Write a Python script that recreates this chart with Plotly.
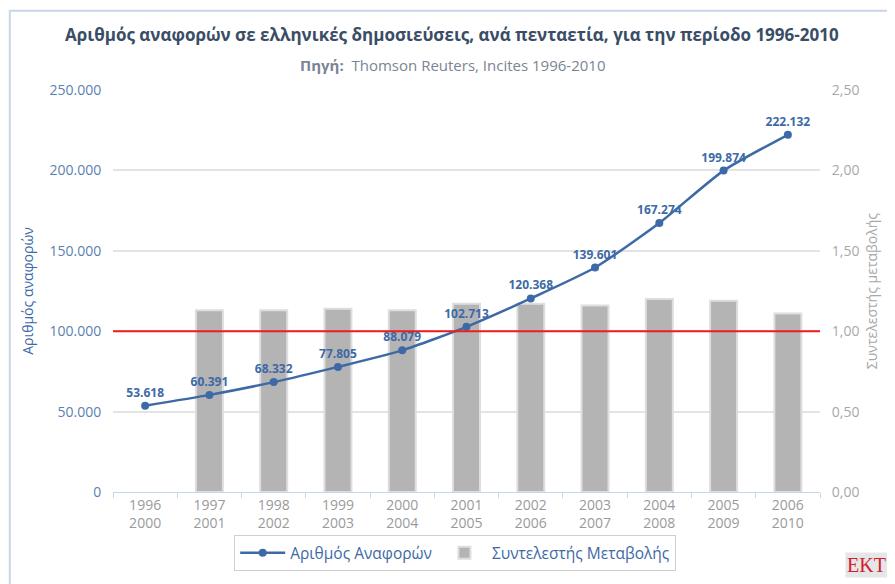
"""Citations to Greek publications per five-year window, 1996-2010."""
from plotly import graph_objects as go

periods = ["1996<br>2000", "1997<br>2001", "1998<br>2002", "1999<br>2003", "2000<br>2004",
           "2001<br>2005", "2002<br>2006", "2003<br>2007", "2004<br>2008", "2005<br>2009",
           "2006<br>2010"]
citations = [53618, 60391, 68332, 77805, 88079, 102713, 120368, 139601, 167274, 199874, 222132]
change_coef = [None, 1.13, 1.13, 1.14, 1.13, 1.17, 1.17, 1.16, 1.20, 1.19, 1.11]

BLUE = "#3d6aa6"
BAR = "#b5b4b4"
AXIS_GREY = "#9a9a9a"
FONT = "Open Sans, DejaVu Sans, sans-serif"

fig = go.Figure()

# bars live on the base axis (drawn right), the line on the overlay (drawn left)
# so that the line and its labels end up on top of the bars
fig.add_trace(
    go.Bar(
        x=periods,
        y=change_coef,
        name="Συντελεστής Μεταβολής",
        yaxis="y",
        width=0.42,
        marker={"color": BAR, "line": {"color": "#dedede", "width": 2}},
    )
)

fig.add_trace(
    go.Scatter(
        x=periods,
        y=citations,
        name="Αριθμός Αναφορών",
        yaxis="y2",
        mode="lines+markers+text",
        line={"color": BLUE, "width": 2.5, "shape": "spline", "smoothing": 0.6},
        marker={"color": BLUE, "size": 8},
        texttemplate="<b>%{y:,d}</b>",
        textposition="top center",
        textfont={"color": BLUE, "size": 12, "family": FONT},
    )
)

fig.add_shape(
    type="line", xref="paper", yref="y", x0=0, x1=1, y0=1, y1=1,
    line={"color": "#ee1c1c", "width": 2}, layer="above",
)

# outer frame of the chart
fig.add_shape(
    type="rect", xref="paper", yref="paper",
    x0=-0.146, x1=1.3, y0=-0.4, y1=1.197,
    line={"color": "#c8d6e6", "width": 2}, layer="below",
)

fig.add_annotation(
    text="<b>Αριθμός αναφορών σε ελληνικές δημοσιεύσεις, ανά πενταετία, για την περίοδο 1996-2010</b>",
    xref="paper", yref="paper", x=0.48, y=1.137, xanchor="center", yanchor="middle",
    showarrow=False, font={"size": 17, "color": "#3a4d66", "family": FONT},
)
fig.add_annotation(
    text="<b>Πηγή:</b>  Thomson Reuters, Incites 1996-2010",
    xref="paper", yref="paper", x=0.48, y=1.062, xanchor="center", yanchor="middle",
    showarrow=False, font={"size": 15, "color": "#7a8494", "family": FONT},
)
fig.add_annotation(
    text="EKT",
    xref="paper", yref="paper", x=1.066, y=-0.182, xanchor="center", yanchor="middle",
    showarrow=False, bgcolor="#e6e6e6",
    font={"size": 20, "color": "#d0202e", "family": "Liberation Serif, serif"},
)

fig.update_layout(
    width=895,
    height=584,
    margin={"l": 105, "r": 83, "t": 82, "b": 100, "autoexpand": False},
    paper_bgcolor="white",
    plot_bgcolor="white",
    separators=",.",
    font={"family": FONT, "color": AXIS_GREY, "size": 14},
    showlegend=True,
    legend={
        "orientation": "h",
        "x": 0.484, "xanchor": "center",
        "y": -0.152, "yanchor": "middle",
        "bordercolor": "#cfcfcf", "borderwidth": 1,
        "font": {"color": BLUE, "size": 15.5},
        "traceorder": "reversed",
        "itemwidth": 45,
    },
    xaxis={
        "type": "category",
        "range": [-0.5, 10.5],
        "showgrid": False,
        "ticks": "outside",
        "tickson": "boundaries",
        "ticklen": 5,
        "tickcolor": "#c8d6e6",
        "showline": True,
        "linecolor": "#c8d6e6",
        "tickfont": {"color": AXIS_GREY, "size": 14},
    },
    yaxis={
        "side": "right",
        "range": [0, 2.5],
        "dtick": 0.5,
        "tickformat": ".2f",
        "showgrid": True,
        "gridcolor": "#e3e3e3",
        "gridwidth": 2,
        "zeroline": False,
        "automargin": False,
        "ticks": "outside",
        "ticklen": 8,
        "tickcolor": "white",
        "tickfont": {"color": "#a8a8a8", "size": 14},
        "title": {"text": "Συντελεστής μεταβολής", "font": {"color": "#a8a8a8", "size": 14}, "standoff": 8},
    },
    yaxis2={
        "overlaying": "y",
        "side": "left",
        "range": [0, 250000],
        "dtick": 50000,
        "tickformat": ",d",
        "showgrid": False,
        "zeroline": False,
        "automargin": False,
        "ticks": "outside",
        "ticklen": 8,
        "tickcolor": "white",
        "tickfont": {"color": "#5b7fb0", "size": 14},
        "title": {"text": "Αριθμός αναφορών", "font": {"color": BLUE, "size": 14}, "standoff": 12},
    },
)

fig.write_html("out.html")
